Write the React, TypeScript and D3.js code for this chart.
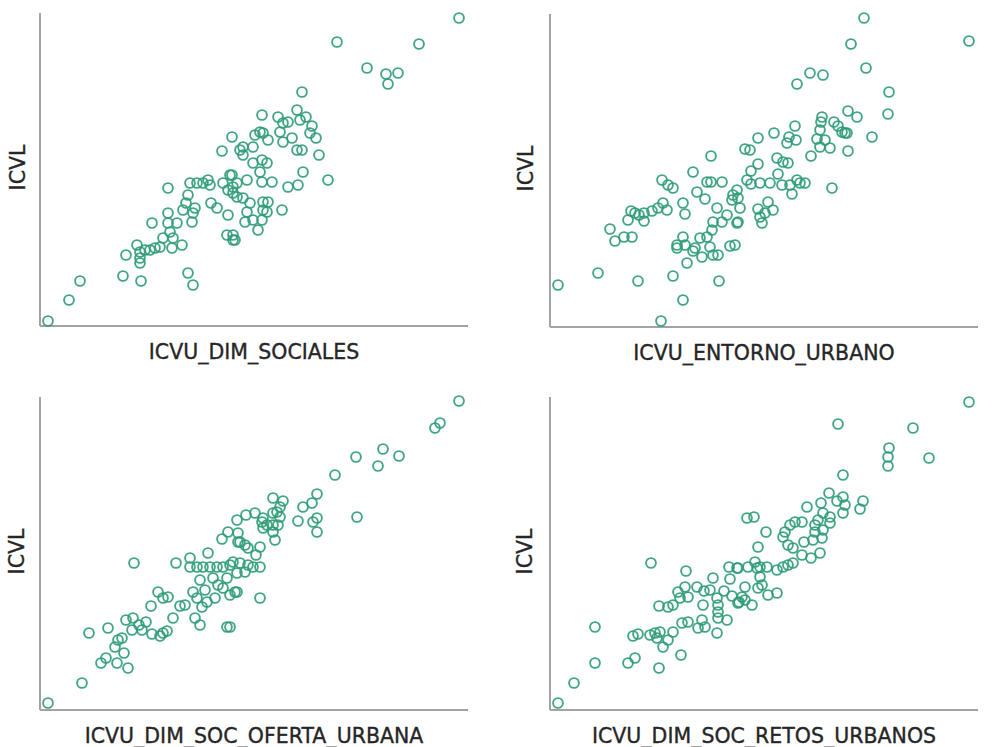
import * as d3 from "d3";

// ICVL vs. each ICVU dimension (relative units)
const xLabels = [
  "ICVU_DIM_SOCIALES",
  "ICVU_ENTORNO_URBANO",
  "ICVU_DIM_SOC_OFERTA_URBANA",
  "ICVU_DIM_SOC_RETOS_URBANOS",
];
const yLabel = "ICVL";

const sociales: [number, number][] = [
  [8, 5], [29, 26], [40, 45], [83, 50], [101, 45], [148, 53], [153, 41], [86, 71],
  [97, 81], [100, 63], [100, 74], [105, 76], [110, 76], [115, 78], [120, 79], [100, 68],
  [112, 103], [123, 88], [128, 113], [128, 103], [130, 94], [132, 78], [133, 88], [137, 103],
  [142, 81], [143, 116], [146, 123], [148, 131], [150, 143], [152, 104], [153, 113], [157, 143],
  [155, 118], [128, 138], [163, 143], [168, 146], [170, 141], [171, 123], [177, 118], [182, 175],
  [192, 189], [183, 143], [188, 136], [190, 151], [193, 139], [188, 111], [187, 91], [193, 86],
  [200, 176], [197, 129],
  [419, 308], [297, 284], [379, 282], [327, 258], [346, 252], [358, 253], [348, 242], [262, 234],
  [222, 211], [257, 216], [238, 209], [243, 203], [248, 204], [260, 206], [266, 209], [272, 200],
  [270, 193], [276, 188], [240, 194], [243, 184], [252, 188], [220, 194], [223, 193], [228, 186],
  [215, 191], [213, 179], [203, 179], [203, 171], [213, 163], [222, 166], [227, 163], [220, 154],
  [257, 176], [262, 176], [279, 171], [263, 154], [288, 146], [207, 146], [222, 144], [232, 144],
  [248, 139], [258, 141], [197, 143], [192, 151], [193, 133], [203, 128], [210, 123], [223, 124],
  [228, 124], [223, 116], [227, 114], [207, 114], [213, 106], [222, 106], [218, 96], [242, 116],
  [205, 104], [193, 91], [195, 86],
];

const entorno: [number, number][] = [
  [8, 42], [48, 54], [88, 46], [111, 6], [133, 27], [123, 51], [169, 46], [60, 98],
  [65, 86], [74, 90], [82, 90], [78, 107], [81, 116], [85, 114], [89, 112], [94, 106],
  [94, 114], [102, 116], [108, 119], [113, 124], [117, 117], [112, 147], [118, 142], [123, 139],
  [133, 124], [135, 113], [143, 155], [147, 135], [157, 145], [161, 145], [161, 171], [172, 145],
  [155, 128], [167, 119], [127, 82], [127, 79], [135, 82], [137, 64], [143, 76], [145, 79],
  [152, 70], [150, 89], [157, 90], [160, 80], [163, 72], [168, 72], [162, 97], [163, 105],
  [172, 105], [180, 81], [177, 112], [182, 127], [183, 132], [187, 104], [133, 90],
  [314, 309], [419, 286], [301, 283], [316, 259], [260, 254], [273, 252], [247, 243], [339, 235],
  [338, 213], [298, 216], [307, 210], [272, 210], [271, 205], [284, 205], [288, 201], [295, 194],
  [297, 194], [292, 195], [322, 190], [298, 176], [270, 197], [267, 188], [275, 187], [280, 179],
  [270, 180], [261, 171], [245, 201], [224, 194], [239, 190], [237, 184], [246, 187], [208, 189],
  [195, 178], [200, 177], [227, 169], [233, 165], [238, 164], [208, 163], [201, 156], [228, 153],
  [197, 147], [201, 143], [210, 144], [220, 144], [232, 142], [240, 142], [247, 147], [250, 144],
  [255, 144], [242, 133], [282, 139], [187, 137], [188, 129], [190, 119], [218, 125], [208, 118],
  [223, 117], [215, 114], [210, 110], [212, 104], [188, 105], [185, 82],
];

const oferta: [number, number][] = [
  [8, 7], [42, 27], [49, 77], [61, 47], [66, 52], [68, 82], [75, 63], [78, 70],
  [82, 72], [77, 47], [84, 57], [88, 42], [86, 90], [93, 92], [92, 80], [99, 85],
  [102, 80], [106, 88], [112, 76], [120, 74], [123, 77], [127, 79], [94, 147], [111, 104],
  [118, 118], [123, 112], [128, 113], [133, 92], [136, 147], [140, 104], [145, 105], [150, 152],
  [150, 143], [153, 118], [155, 92], [160, 85], [157, 112], [162, 103], [167, 108], [168, 157],
  [157, 143], [163, 143], [170, 143], [177, 143], [183, 143], [190, 145], [173, 132], [178, 125],
  [187, 132], [187, 83], [183, 122], [190, 115], [195, 118], [182, 171], [188, 178], [197, 190],
  [198, 168], [165, 120], [175, 112], [160, 130],
  [419, 309], [400, 287], [395, 282], [343, 261], [316, 253], [359, 254], [338, 244], [295, 235],
  [277, 216], [272, 207], [263, 203], [258, 189], [277, 192], [273, 188], [277, 178], [317, 193],
  [233, 212], [243, 209], [240, 203], [237, 198], [240, 193], [233, 197], [223, 192], [222, 188],
  [227, 185], [233, 185], [238, 185], [223, 182], [233, 178], [235, 170], [215, 197], [206, 195],
  [198, 177], [200, 168], [205, 165], [208, 162], [220, 163], [216, 155], [193, 148], [200, 147],
  [208, 145], [213, 143], [220, 143], [205, 138], [197, 137], [197, 118], [220, 112], [190, 83],
];

const retos: [number, number][] = [
  [8, 7], [24, 27], [45, 83], [45, 47], [78, 47], [85, 52], [109, 42], [131, 55],
  [83, 74], [88, 76], [100, 75], [105, 77], [107, 72], [110, 78], [113, 63], [118, 70],
  [123, 78], [132, 87], [138, 88], [148, 82], [152, 90], [155, 83], [167, 77], [168, 92],
  [177, 90], [168, 98], [109, 104], [118, 103], [123, 105], [130, 112], [128, 118], [135, 123],
  [138, 113], [136, 139], [147, 123], [154, 119], [153, 105], [160, 120], [163, 132], [167, 112],
  [168, 105], [174, 119], [180, 131], [179, 143], [182, 114], [187, 142], [101, 147], [189, 108],
  [419, 308], [288, 286], [363, 282], [339, 262], [338, 253], [338, 244], [379, 252], [293, 235],
  [279, 217], [287, 209], [293, 213], [295, 205], [293, 197], [313, 209], [310, 201], [271, 207],
  [273, 197], [280, 193], [268, 190], [257, 203], [280, 187], [265, 185], [273, 180], [265, 178],
  [272, 172], [263, 170], [254, 168], [245, 188], [252, 188], [240, 185], [235, 178], [233, 173],
  [238, 165], [243, 162], [270, 157], [261, 152], [252, 155], [216, 178], [197, 192], [204, 193],
  [208, 163], [243, 147], [238, 145], [233, 143], [227, 140], [217, 143], [210, 143], [207, 142],
  [198, 143], [188, 142], [205, 148], [210, 133], [212, 125], [208, 122], [195, 123], [192, 113],
  [195, 110], [202, 105], [188, 107], [218, 115], [227, 117],
];

const series = [sociales, entorno, oferta, retos];

const W = 992;
const H = 747;
const PW = 428;
const PH = 313;
const ORIGINS: [number, number][] = [
  [40, 326],
  [550, 327],
  [40, 710],
  [550, 710],
];
const Y_LABEL_X = [18, 526, 17, 525];
const POINT = "#2f9c76";
const AXIS = "#a3a3a3";
const FONT = "'DejaVu Sans', Verdana, sans-serif";
const TEXT = "#262626";

function Panel({ i }: { i: number }) {
  const [x0, y0] = ORIGINS[i];
  const x = d3.scaleLinear().domain([0, PW]).range([x0, x0 + PW]);
  const y = d3.scaleLinear().domain([0, PH]).range([y0, y0 - PH]);
  const cy = y0 - PH / 2 - 2;
  return (
    <g>
      <line x1={x0} y1={y0 - PH} x2={x0} y2={y0} stroke={AXIS} strokeWidth={2} />
      <line x1={x0} y1={y0} x2={x0 + PW} y2={y0} stroke={AXIS} strokeWidth={2} />
      {series[i].map((d, k) => (
        <circle
          key={k}
          cx={x(d[0])}
          cy={y(d[1])}
          r={4.9}
          fill="none"
          stroke={POINT}
          strokeWidth={1.9}
          strokeOpacity={0.9}
        />
      ))}
      <text
        x={x0 + PW / 2}
        y={y0 + 33}
        textAnchor="middle"
        fontFamily={FONT}
        fontSize={20.5}
        fill={TEXT}
        stroke={TEXT}
        strokeWidth={0.35}
      >
        {xLabels[i]}
      </text>
      <text
        transform={`translate(${Y_LABEL_X[i] + 7},${cy}) rotate(-90)`}
        textAnchor="middle"
        fontFamily={FONT}
        fontSize={20.5}
        fill={TEXT}
        stroke={TEXT}
        strokeWidth={0.35}
      >
        {yLabel}
      </text>
    </g>
  );
}

export default function App() {
  return (
    <>
      <style>{`body{margin:0;background:#fff}`}</style>
      <svg width={W} height={H} style={{ display: "block" }}>
        <rect width={W} height={H} fill="#fff" />
        {series.map((_, i) => (
          <Panel key={i} i={i} />
        ))}
      </svg>
    </>
  );
}
